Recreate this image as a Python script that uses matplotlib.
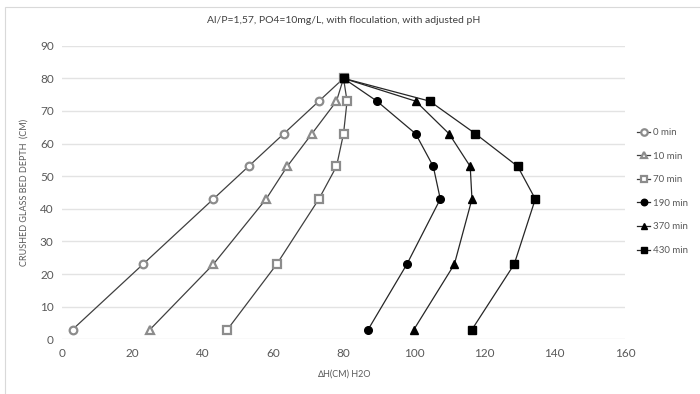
import matplotlib
matplotlib.use("Agg")
import matplotlib.pyplot as plt
from matplotlib.patches import Rectangle

plt.rcParams['font.family'] = ['Lato', 'DejaVu Sans']

depth = [3, 23, 43, 53, 63, 73, 80]
labels = ["0 min", "10 min", "70 min", "190 min", "370 min", "430 min"]
dh_0 = [3, 23, 43, 53, 63, 73, 80]
dh_10 = [25, 43, 58, 64, 71, 78, 80]
dh_70 = [47, 61, 73, 78, 80, 81, 80]
dh_190 = [87, 98, 107.5, 105.5, 100.5, 89.5, 80]
dh_370 = [100, 111.5, 116.5, 116, 110, 100.5, 80]
dh_430 = [116.5, 128.5, 134.5, 129.5, 117.5, 104.5, 80]
series = [dh_0, dh_10, dh_70, dh_190, dh_370, dh_430]
markers = ["o", "^", "s", "o", "^", "s"]
hollow = [True, True, True, False, False, False]

fig = plt.figure(figsize=(7, 3.94), dpi=100)
fig.patches.append(Rectangle((0.007, -0.01), 1.0, 0.992, transform=fig.transFigure,
                             fill=False, edgecolor='#d9d9d9', linewidth=0.8))
ax = fig.add_axes([0.0886, 0.1388, 0.8043, 0.7452])

handles = []
for vals, m, h, lab in zip(series, markers, hollow, labels):
    if h:
        ln, = ax.plot(vals, depth, color='#404040', linewidth=0.9, marker=m,
                      markersize=5.5, markerfacecolor='white', markeredgecolor='#8c8c8c',
                      markeredgewidth=1.6, label=lab, zorder=3)
    else:
        ln, = ax.plot(vals, depth, color='#262626', linewidth=0.9, marker=m,
                      markersize=5.5, markerfacecolor='black', markeredgecolor='black',
                      markeredgewidth=1, label=lab, zorder=4)
    handles.append(ln)

ax.set_xlim(0, 160)
ax.set_ylim(0, 90)
ax.set_xticks(range(0, 161, 20))
ax.set_yticks(range(0, 91, 10))
for s in ax.spines.values():
    s.set_visible(False)
ax.grid(axis='y', color='#e3e3e3', linewidth=1)
ax.set_axisbelow(True)
ax.tick_params(length=0, labelsize=8.5, labelcolor='#595959', pad=6)
ax.set_xlabel("∆H(CM) H2O", fontsize=6.5, color='#595959', labelpad=8)
ax.set_ylabel("CRUSHED GLASS BED DEPTH  (CM)", fontsize=6.5, color='#595959', labelpad=8)
ax.set_title("Al/P=1,57, PO4=10mg/L, with floculation, with adjusted pH",
             fontsize=7.5, color='#404040', pad=16)

fig.legend(handles=handles, loc='upper left', bbox_to_anchor=(0.905, 0.685),
           frameon=False, fontsize=7, labelcolor='#595959', handlelength=1.3,
           handletextpad=0.3, labelspacing=1.5, borderaxespad=0, markerscale=0.85)

fig.savefig("out.png", dpi=100)
